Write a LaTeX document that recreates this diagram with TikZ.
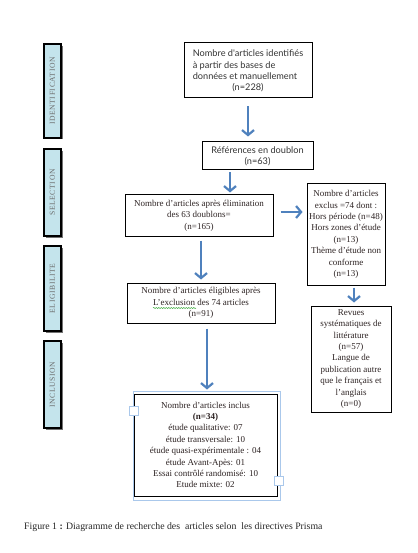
\documentclass[tikz,border=0pt]{standalone}
\usepackage{fontspec}
\setmainfont{Liberation Serif}
\newfontfamily\gsansfont{Lato}
\newfontfamily\phasefont[LetterSpace=8]{Liberation Serif}
\usetikzlibrary{arrows.meta,decorations.pathmorphing}
\definecolor{arrowblue}{RGB}{79,129,189}
\definecolor{phasefill}{RGB}{196,228,236}
\definecolor{phasetext}{RGB}{105,105,105}
\definecolor{boxtext}{RGB}{45,35,35}
\definecolor{selblue}{RGB}{170,200,235}
\definecolor{wavegreen}{RGB}{60,170,60}
\begin{document}
\begin{tikzpicture}[x=1pt,y=-1pt,
  phase/.style={draw=black, line width=1.3pt, fill=phasefill, inner sep=0pt, rotate=90,
    font=\phasefont\fontsize{7.6}{8}\selectfont, text=phasetext},
  box/.style={draw=black, line width=1pt, inner sep=0pt, align=center, text=boxtext,
    font=\fontsize{9}{11.4}\selectfont},
  sbox/.style={box, font=\gsansfont\fontsize{9.2}{11.4}\selectfont, text=black!80},
  flow/.style={draw=arrowblue, line width=2.6pt, -{Straight Barb[length=5pt,width=12pt,line width=2.2pt]}},
  wave/.style={draw=wavegreen, line width=0.5pt, decorate, decoration={snake, amplitude=0.6pt, segment length=2.5pt}},
  shade/.style={fill=black!55},
]
\useasboundingbox (0,0) rectangle (417,553);

% phase labels (shadow strips first)
\fill[shade] (46,46) rectangle (62.5,139.5);
\fill[shade] (46,151) rectangle (62.5,238);
\fill[shade] (46,248) rectangle (62.5,333);
\fill[shade] (46,343) rectangle (62.5,430);
\node[phase, minimum width=94pt, minimum height=17pt] (pid) at (52.5,91) {IDENTIFICATION};
\node[phase, minimum width=87pt, minimum height=17pt] (psel) at (52.5,192.5) {SELECTION};
\node[phase, minimum width=85pt, minimum height=17pt] (pel) at (52.5,288.5) {ELIGIBILITE};
\node[phase, minimum width=87pt, minimum height=17pt] (pinc) at (52.5,384.5) {INCLUSION};

% boxes
\node[sbox, minimum width=128pt, minimum height=55pt] (b1) at (248,70.5)
  {\begin{tabular}{@{}l@{}}Nombre d'articles identifiés\\à partir des bases de\\données et manuellement\end{tabular}\\(n=228)};
\node[sbox, minimum width=111pt, minimum height=28pt] (b2) at (257.5,156)
  {Références en doublon\\(n=63)};
\node[box, minimum width=148pt, minimum height=41pt] (b3) at (199,215.5)
  {Nombre d'articles après élimination\\des 63 doublons=\\(n=165)};
\node[box, minimum width=78pt, minimum height=101pt] (ex) at (346,234.5)
  {Nombre d'articles\\exclus =74 dont :\\Hors période (n=48)\\Hors zones d'étude\\(n=13)\\Thème d'étude non\\conforme\\(n=13)};
\node[box, minimum width=80pt, minimum height=106pt] (rv) at (351,359)
  {Revues\\systématiques de\\littérature\\(n=57)\\Langue de\\publication autre\\que le français et\\l'anglais\\(n=0)};
\node[box, minimum width=148pt, minimum height=40pt] (b4) at (201,303)
  {Nombre d'articles éligibles après\\L'exclusion des 74 articles\\(n=91)};
\draw[wave] (153,308) -- (196,308);

% selection frame of the last text box
\draw[selblue, line width=0.8pt] (133,391) rectangle (280,500);
\node[box, fill=white, minimum width=143pt, minimum height=102pt] (b5) at (205.5,445)
  {Nombre d'articles inclus\\\textbf{(n=34)}\\étude qualitative: 07\\étude transversale: 10\\étude quasi-expérimentale : 04\\étude Avant-Apès: 01\\Essai contrôlé randomisé: 10\\Etude mixte: 02};
\draw[selblue, line width=0.8pt, fill=white] (129,406) rectangle (138,415);
\draw[selblue, line width=0.8pt, fill=white] (274,476) rectangle (283,485);

% arrows
\draw[flow, shorten <=8pt, shorten >=5pt] (b1.south) -- (b1.south |- b2.north);
\draw[flow, shorten <=2pt, shorten >=2pt] ([xshift=-27.5pt]b2.south) -- ([xshift=-27.5pt]b2.south |- b3.north);
\draw[flow, shorten <=7pt, shorten >=4pt] ([yshift=3.5pt]b3.east) -- ([yshift=3.5pt]b3.east -| ex.west);
\draw[flow, shorten <=2pt, shorten >=3pt] ([xshift=8pt]ex.south) -- ([xshift=8pt]ex.south |- rv.north);
\draw[flow, shorten <=4pt, shorten >=3pt] ([xshift=2pt]b3.south) -- ([xshift=2pt]b3.south |- b4.north);
\draw[flow, shorten <=5pt, shorten >=4pt] ([xshift=6pt]b4.south) -- ([xshift=6pt]b4.south |- b5.north);

% caption
\node[anchor=west, inner sep=0pt, font=\fontsize{9.8}{12}\selectfont, text=black!85] (cap) at (24,527)
  {Figure 1 \textbf{:} Diagramme de recherche des\ \ articles selon\ \ les directives Prisma};
\end{tikzpicture}
\end{document}
